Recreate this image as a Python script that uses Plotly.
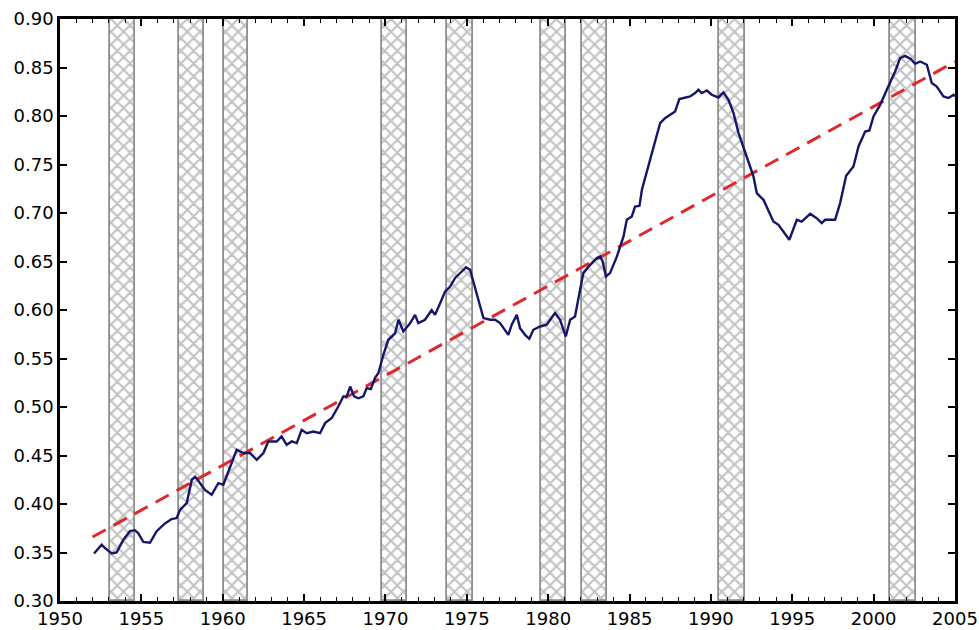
import plotly.graph_objects as go

# --- data -------------------------------------------------------------
series_years = [
    1952.09, 1952.56, 1952.77, 1953.18, 1953.48, 1953.89, 1954.30, 1954.60, 1954.80, 1955.12,
    1955.53, 1955.94, 1956.45, 1956.86, 1957.17, 1957.38, 1957.79, 1958.10, 1958.30, 1958.50,
    1958.91, 1959.32, 1959.73, 1960.04, 1960.35, 1960.86, 1961.27, 1961.68, 1962.09, 1962.50,
    1962.80, 1963.32, 1963.62, 1963.93, 1964.24, 1964.55, 1964.85, 1965.16, 1965.57, 1965.98,
    1966.29, 1966.70, 1967.10, 1967.41, 1967.62, 1967.83, 1968.07, 1968.34, 1968.64, 1968.85,
    1969.10, 1969.36, 1969.57, 1969.87, 1970.18, 1970.59, 1970.80, 1971.10, 1971.50, 1971.82,
    1972.02, 1972.43, 1972.84, 1973.05, 1973.36, 1973.66, 1973.97, 1974.28, 1974.69, 1974.95,
    1975.20, 1975.50, 1975.81, 1976.02, 1976.43, 1976.74, 1977.04, 1977.25, 1977.55, 1977.76,
    1978.07, 1978.27, 1978.58, 1978.84, 1979.09, 1979.50, 1979.91, 1980.42, 1980.73, 1980.94,
    1981.08, 1981.35, 1981.65, 1981.96, 1982.16, 1982.58, 1982.99, 1983.19, 1983.35, 1983.55,
    1983.80, 1984.22, 1984.63, 1984.83, 1985.14, 1985.34, 1985.61, 1985.76, 1985.96, 1986.26,
    1986.57, 1986.88, 1987.18, 1987.49, 1987.80, 1988.06, 1988.41, 1988.72, 1989.03, 1989.23,
    1989.44, 1989.75, 1990.05, 1990.46, 1990.77, 1991.08, 1991.39, 1991.70, 1992.20, 1992.61,
    1992.82, 1993.23, 1993.84, 1994.15, 1994.82, 1995.28, 1995.58, 1996.10, 1996.50, 1996.81,
    1997.02, 1997.63, 1997.94, 1998.31, 1998.76, 1999.07, 1999.48, 1999.74, 1999.99, 2000.40,
    2000.81, 2001.32, 2001.63, 2001.93, 2002.28, 2002.55, 2002.86, 2003.27, 2003.57, 2003.88,
    2004.29, 2004.60, 2004.91, 2005.00,
]
series_values = [
    0.349, 0.358, 0.3545, 0.349, 0.350, 0.363, 0.372, 0.373, 0.370, 0.361,
    0.360, 0.372, 0.380, 0.3845, 0.3855, 0.394, 0.401, 0.425, 0.428, 0.424,
    0.4146, 0.4095, 0.4215, 0.4198, 0.4335, 0.456, 0.4525, 0.4525, 0.4455, 0.4525,
    0.4645, 0.4645, 0.4696, 0.461, 0.4645, 0.4628, 0.4765, 0.473, 0.4747, 0.473,
    0.4834, 0.4886, 0.5005, 0.5108, 0.511, 0.5211, 0.511, 0.509, 0.511, 0.5195,
    0.5185, 0.530, 0.535, 0.5538, 0.5693, 0.576, 0.590, 0.5778, 0.586, 0.595,
    0.5865, 0.590, 0.600, 0.595, 0.607, 0.619, 0.624, 0.633, 0.6397, 0.644,
    0.6415, 0.624, 0.6036, 0.5917, 0.590, 0.590, 0.5865, 0.5813, 0.5744, 0.5848,
    0.595, 0.5813, 0.5744, 0.5703, 0.5796, 0.583, 0.5848, 0.5968, 0.590, 0.5796,
    0.5727, 0.590, 0.5933, 0.6208, 0.638, 0.6466, 0.6535, 0.655, 0.650, 0.6345,
    0.638, 0.655, 0.6758, 0.693, 0.6964, 0.7067, 0.7074, 0.724, 0.7376, 0.7548,
    0.7737, 0.7927, 0.7978, 0.8012, 0.8046, 0.8174, 0.8185, 0.8201, 0.8236, 0.827,
    0.8236, 0.8263, 0.8219, 0.8191, 0.8243, 0.8167, 0.803, 0.7824, 0.758, 0.738,
    0.7205, 0.7136, 0.6912, 0.6878, 0.6724, 0.693, 0.6912, 0.6992, 0.6947, 0.6896,
    0.693, 0.693, 0.7102, 0.7384, 0.748, 0.7686, 0.784, 0.7851, 0.7995, 0.8115,
    0.827, 0.8459, 0.8597, 0.862, 0.8587, 0.8538, 0.8562, 0.8528, 0.8339, 0.8304,
    0.8201, 0.8185, 0.8219, 0.820,
]

trend_years = [1952.0, 2005.0]
trend_values = [0.366, 0.856]

band_start = [1953.05, 1957.30, 1960.05, 1969.80, 1973.80, 1979.55, 1982.05, 1990.50, 2001.00]
band_end = [1954.60, 1958.85, 1961.57, 1971.35, 1975.35, 1981.10, 1983.60, 1992.10, 2002.60]

x_tick_values = [1950, 1955, 1960, 1965, 1970, 1975, 1980, 1985, 1990, 1995, 2000, 2005]
y_tick_values = [0.30, 0.35, 0.40, 0.45, 0.50, 0.55, 0.60, 0.65, 0.70, 0.75, 0.80, 0.85, 0.90]

y_min, y_max = 0.30, 0.90

# --- figure -----------------------------------------------------------
band_centers = [(a + b) / 2 for a, b in zip(band_start, band_end)]
band_widths = [b - a for a, b in zip(band_start, band_end)]

fig = go.Figure()

fig.add_trace(go.Bar(
    x=band_centers,
    y=[y_max - y_min] * len(band_centers),
    base=y_min,
    width=band_widths,
    marker=dict(
        color="white",
        line=dict(color="#8f8f8f", width=1.8),
        pattern=dict(shape="x", fgcolor="#858585", bgcolor="white", size=9, solidity=0.42),
    ),
    showlegend=False,
    hoverinfo="skip",
))

fig.add_trace(go.Scatter(
    x=trend_years, y=trend_values, mode="lines",
    line=dict(color="#e0282c", width=3, dash="15px,9px"),
    showlegend=False,
))

fig.add_trace(go.Scatter(
    x=series_years, y=series_values, mode="lines",
    line=dict(color="#15156a", width=2.4),
    showlegend=False,
))

axis_font = dict(family="DejaVu Sans", size=18, color="black")

fig.update_layout(
    width=979, height=630,
    margin=dict(l=60, r=24, t=19, b=29),
    paper_bgcolor="white", plot_bgcolor="white",
    font=axis_font,
    bargap=0,
)

fig.update_xaxes(
    range=[1950, 2005],
    tickvals=x_tick_values,
    ticktext=[str(v) for v in x_tick_values],
    ticks="inside", ticklen=7, tickwidth=1.5, tickcolor="black",
    minor=dict(dtick=1, ticks="inside", ticklen=4, tickwidth=1.2, tickcolor="black"),
    showline=True, linecolor="black", linewidth=2.5, mirror="ticks",
    showgrid=False, zeroline=False, automargin=False,
    tickfont=axis_font,
)

fig.update_yaxes(
    range=[y_min, y_max],
    tickvals=y_tick_values,
    ticktext=["%.2f" % v for v in y_tick_values],
    ticks="inside", ticklen=7, tickwidth=1.5, tickcolor="black",
    showline=True, linecolor="black", linewidth=2.5, mirror="ticks",
    showgrid=False, zeroline=False, automargin=False,
    tickfont=axis_font,
)

fig.write_html(
    "out.html",
    config={"displayModeBar": False},
    post_script="document.body.style.margin='0px'; document.body.style.overflow='hidden';",
)
